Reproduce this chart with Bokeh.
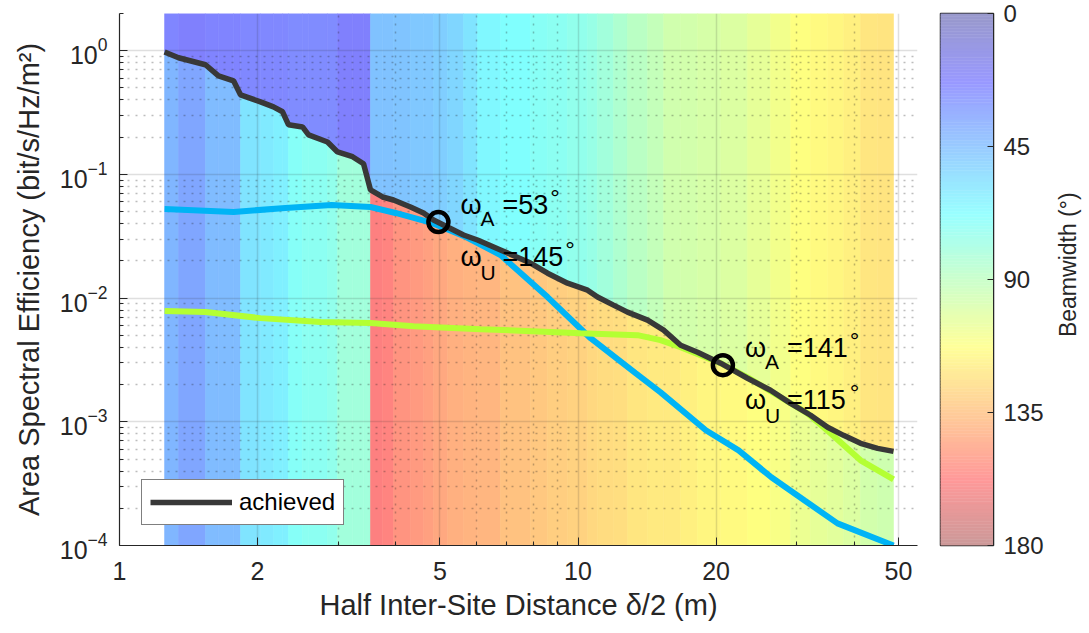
import numpy as np
from bokeh.plotting import figure
from bokeh.layouts import row
from bokeh.models import (ColumnDataSource, FixedTicker, Label, Legend, LegendItem,
                          LinearColorMapper, NumeralTickFormatter, Range1d)
from bokeh.transform import transform
from bokeh.embed import file_html
from bokeh.resources import INLINE

# ---------------- data ----------------
dist = [1.254, 1.345, 1.540, 1.644, 1.773, 1.836, 2.030, 2.167, 2.268, 2.337,
        2.507, 2.584, 2.842, 2.989, 3.223, 3.406, 3.527, 3.747, 3.959, 4.312,
        4.603, 4.840, 5.193, 5.627, 6.037, 6.776, 7.877, 8.582, 9.487, 10.49,
        11.03, 11.95, 12.82, 14.18, 15.37, 16.74, 18.23, 20.46, 23.42, 26.29,
        29.08, 32.15, 35.02, 37.94, 41.32, 45.01, 48.76]
achieved = [0.976, 0.878, 0.770, 0.627, 0.571, 0.440, 0.386, 0.352, 0.321, 0.252,
            0.242, 0.209, 0.183, 0.152, 0.139, 0.122, 0.0749, 0.0657, 0.0621, 0.0545,
            0.0488, 0.0428, 0.0376, 0.0324, 0.0295, 0.0245, 0.0192, 0.0159, 0.0132, 0.0116,
            0.0102, 0.00878, 0.00770, 0.00664, 0.00551, 0.00416, 0.00365, 0.00298, 0.00225, 0.00180,
            0.00141, 0.00113, 0.000903, 0.000777, 0.000670, 0.000610, 0.000577]
# beamwidth (deg) of each interval between consecutive distances
omega_upper = [25, 22, 24, 24, 24, 26, 26, 26, 26, 27, 27, 27, 27, 22, 22, 22,
               46, 46, 47, 48, 48, 50, 53, 58, 65, 68, 71, 72, 74, 76, 80, 84,
               88, 92, 96, 97, 98, 100, 104, 108, 112, 114, 116, 118, 121, 122]
omega_lower = [42, 36, 44, 44, 44, 58, 60, 62, 62, 70, 72, 72, 74, 80, 80, 80,
               158, 156, 150, 148, 146, 143, 140, 139, 138, 134, 132, 130, 128, 126, 125, 124,
               121, 120, 120, 118, 116, 114, 112, 110, 106, 104, 102, 100, 97, 95]

blue_x = [1.254, 1.773, 2.30, 2.90, 3.527, 4.00, 4.80, 5.70, 6.776, 8.582,
          10.65, 13.35, 15.14, 19.0, 22.4, 26.4, 31.2, 36.8, 48.76]
blue_y = [0.0526, 0.0497, 0.0536, 0.0566, 0.0545, 0.0488, 0.0405, 0.0312, 0.0223, 0.0102,
          0.00474, 0.00247, 0.00173, 0.000854, 0.000588, 0.000356, 0.000231, 0.000151, 0.0001]

green_x = [1.254, 1.540, 2.030, 2.744, 3.527, 4.378, 6.13, 10.13, 13.48, 15.13,
           16.74, 20.46, 23.42, 27.65, 31.66, 35.53, 41.32, 48.76]
green_y = [0.00785, 0.00771, 0.00689, 0.00640, 0.00628, 0.00593, 0.00561, 0.00521, 0.00502, 0.00457,
           0.00401, 0.00298, 0.00229, 0.00158, 0.00117, 0.000807, 0.000488, 0.000342]

mark_x = [4.96, 20.7]
mark_y = [0.0412, 0.00287]
mark_omega_a = [53, 141]
mark_omega_u = [145, 115]

x_ticks = [1, 2, 5, 10, 20, 50]
x_minor = [3, 4, 6, 7, 8, 9, 30, 40]
y_ticks = [1e-4, 1e-3, 1e-2, 1e-1, 1]
y_minor = [m * 10.0 ** e for e in range(-4, 1) for m in range(2, 10)]
cbar_ticks = [0, 45, 90, 135, 180]
cbar_levels = list(range(0, 180))

X_RANGE = (1, 55)
Y_RANGE = (1e-4, 2.0)

FONT = "Liberation Sans"
TXT = "#262626"
TOP, BOTTOM, FH = 13, 84, 532


def jet_palette(alpha, n=256):
    pal = []
    for i in range(n):
        v = i / (n - 1)
        rgb = [min(max(1.5 - abs(4 * v - k), 0.0), 1.0) for k in (3, 2, 1)]
        c = [int(round(255 * (1 - alpha) + 255 * alpha * ch)) for ch in rgb]
        pal.append("#%02x%02x%02x" % tuple(c))
    return pal


pal_plot = jet_palette(0.5)
pal_bar = jet_palette(0.4)
mapper_plot = LinearColorMapper(palette=pal_plot, low=0, high=180)
mapper_bar = LinearColorMapper(palette=pal_bar, low=0, high=180)

# ---------------- main figure ----------------
p = figure(x_axis_type="log", y_axis_type="log",
           x_range=Range1d(*X_RANGE), y_range=Range1d(*Y_RANGE),
           frame_width=798, frame_height=FH,
           min_border_left=119, min_border_right=13, min_border_top=TOP, min_border_bottom=BOTTOM,
           output_backend="svg", toolbar_location=None)
p.outline_line_color = None
p.background_fill_color = "white"
p.border_fill_color = "white"

# coloured stripes (upper: above achieved curve, lower: below it)
xs, ys_up, ys_lo = [], [], []
for i in range(len(dist) - 1):
    x0, x1 = dist[i], dist[i + 1]
    y0, y1 = achieved[i], achieved[i + 1]
    xs.append([x0, x0, x1, x1])
    ys_lo.append([Y_RANGE[0], y0, y1, Y_RANGE[0]])
    ys_up.append([y0, Y_RANGE[1], Y_RANGE[1], y1])

src_up = ColumnDataSource(dict(xs=xs, ys=ys_up, w=omega_upper))
src_lo = ColumnDataSource(dict(xs=xs, ys=ys_lo, w=omega_lower))
for src in (src_up, src_lo):
    p.patches("xs", "ys", source=src, fill_color=transform("w", mapper_plot),
              line_color=transform("w", mapper_plot), line_width=0.6, level="image")

# curves
p.line(blue_x, blue_y, line_color="#00b4f5", line_width=6)
p.line(green_x, green_y, line_color="#b4ff33", line_width=6)
ach = p.line(dist, achieved, line_color="#383838", line_width=5.5)
p.scatter(mark_x, mark_y, marker="circle", size=20, fill_color=None,
          line_color="black", line_width=4.5)

# axes
xt = FixedTicker(ticks=x_ticks, minor_ticks=x_minor)
yt = FixedTicker(ticks=y_ticks, minor_ticks=y_minor)
p.xaxis.ticker = xt
p.yaxis.ticker = yt
p.xaxis.formatter = NumeralTickFormatter(format="0")
for ax in (p.xaxis[0], p.yaxis[0]):
    ax.axis_line_color = TXT
    ax.axis_line_width = 1.2
    ax.major_tick_in = 8
    ax.major_tick_out = 0
    ax.minor_tick_in = 4
    ax.minor_tick_out = 0
    ax.major_tick_line_color = TXT
    ax.minor_tick_line_color = TXT
    ax.major_label_text_font = FONT
    ax.major_label_text_font_size = "25px"
    ax.major_label_text_color = TXT
    ax.axis_label_text_font = FONT
    ax.axis_label_text_font_size = "29px"
    ax.axis_label_text_font_style = "normal"
    ax.axis_label_text_color = TXT
p.xaxis.axis_label = "Half Inter-Site Distance \u03b4/2 (m)"
p.yaxis.axis_label = "Area Spectral Efficiency (bit/s/Hz/m\u00b2)"
p.xaxis.major_label_standoff = 16
p.xaxis.axis_label_standoff = 6
p.yaxis.major_label_standoff = 12
p.yaxis.axis_label_standoff = 12

for g in (p.xgrid[0], p.ygrid[0]):
    g.grid_line_color = "#262626"
    g.grid_line_alpha = 0.15
    g.grid_line_width = 1.5
    g.minor_grid_line_color = "#262626"
    g.minor_grid_line_alpha = 0.3
    g.minor_grid_line_width = 1.5
    g.minor_grid_line_dash = "2 6"
    g.level = "underlay"
p.xgrid.ticker = xt
p.ygrid.ticker = yt

# legend
legend = Legend(items=[LegendItem(label="achieved", renderers=[ach])], location=(22, 20),
                border_line_color="black", border_line_width=1, background_fill_color="white",
                background_fill_alpha=1, label_text_font=FONT, label_text_font_size="24px",
                label_text_color="black", glyph_width=82, glyph_height=24, padding=8,
                label_standoff=7, margin=0, spacing=0)
p.add_layout(legend)

# annotations
def add_text(fig, x, y, text, dx, dy, size):
    fig.add_layout(Label(x=x, y=y, x_offset=dx, y_offset=dy, text=text, text_font=FONT,
                         text_font_size=f"{size}px", text_color="black",
                         text_align="left", text_baseline="alphabetic"))

for mx, my, wa, wu in zip(mark_x, mark_y, mark_omega_a, mark_omega_u):
    for sub, w, base, subdy in (("A", wa, 17, 4), ("U", wu, -35, -50)):
        s = "=%d" % w
        add_text(p, mx, my, "\u03c9", 22, base, 27)
        add_text(p, mx, my, sub, 42, subdy, 21)
        add_text(p, mx, my, s, 64, base, 27)
        wpx = 0.584 * 27 + 0.556 * 27 * (len(s) - 1)
        add_text(p, mx, my, "\u00b0", 64 + wpx + 2, base + 8, 24)

# ---------------- colour bar figure ----------------
c = figure(x_range=Range1d(0, 1), y_range=Range1d(180, 0),
           frame_width=53, frame_height=FH, y_axis_location="right",
           min_border_left=10, min_border_right=55, min_border_top=TOP, min_border_bottom=BOTTOM,
           output_backend="svg", toolbar_location=None)
bar_src = ColumnDataSource(dict(v=cbar_levels, top=[v + 1 for v in cbar_levels]))
c.quad(left=0, right=1, bottom="v", top="top",
       fill_color=transform("v", mapper_bar), line_color=transform("v", mapper_bar),
       line_width=0.5, source=bar_src)
c.xaxis.visible = False
c.grid.visible = False
c.outline_line_color = TXT
c.outline_line_width = 1.5
c.outline_line_alpha = 1
ya = c.yaxis[0]
ya.ticker = FixedTicker(ticks=cbar_ticks, minor_ticks=[])
ya.axis_line_color = TXT
ya.major_tick_in = 6
ya.major_tick_out = 0
ya.minor_tick_in = 0
ya.minor_tick_out = 0
ya.major_tick_line_color = TXT
ya.major_label_text_font = FONT
ya.major_label_text_font_size = "24px"
ya.major_label_text_color = TXT
ya.major_label_standoff = 10

# ---------------- colour bar title (rotated) ----------------
t = figure(x_range=Range1d(0, 1), y_range=Range1d(180, 0),
           frame_width=36, frame_height=FH,
           min_border_left=0, min_border_right=0, min_border_top=TOP, min_border_bottom=BOTTOM,
           output_backend="svg", toolbar_location=None)
t.axis.visible = False
t.grid.visible = False
t.outline_line_color = None
t.add_layout(Label(x=0.55, y=85, text="Beamwidth (\u00b0)", angle=np.pi / 2,
                   text_font=FONT, text_font_size="23px", text_color=TXT,
                   text_align="center", text_baseline="middle"))

layout = row(p, c, t)
open("out.html", "w").write(file_html(layout, INLINE))
